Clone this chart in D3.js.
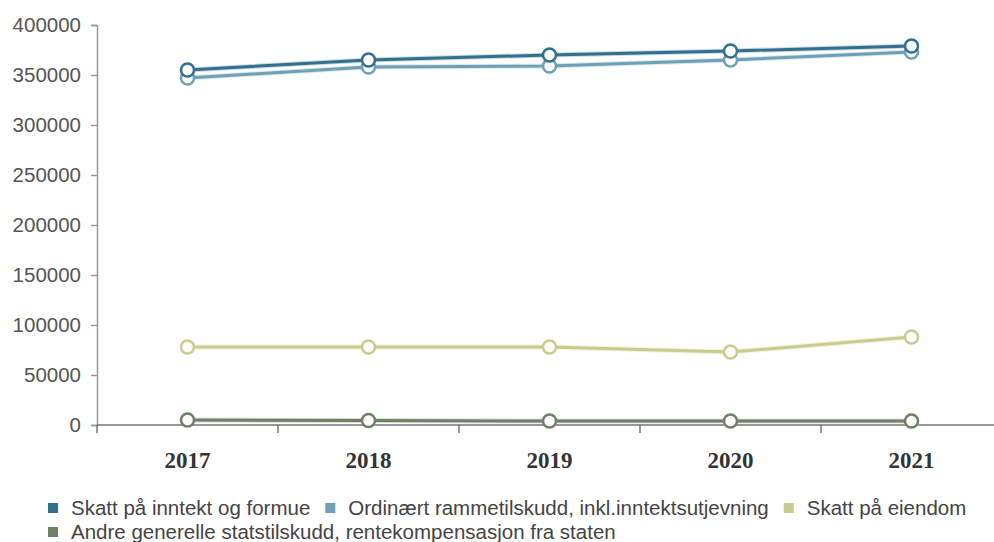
<!DOCTYPE html>
<html>
<head>
<meta charset="utf-8">
<script src="https://cdn.jsdelivr.net/npm/d3@7/dist/d3.min.js"></script>
<style>
html,body{margin:0;padding:0;background:#fff;}
svg{display:block;}
</style>
</head>
<body>
<svg id="chart" width="994" height="542"></svg>
<script>
const years = ["2017","2018","2019","2020","2021"];
const seriesNames = [
  "Skatt på inntekt og formue",
  "Ordinært rammetilskudd, inkl.inntektsutjevning",
  "Skatt på eiendom",
  "Andre generelle statstilskudd, rentekompensasjon fra staten"
];
const skattInntekt = [355000, 365000, 370000, 374000, 379000];
const rammetilskudd = [347000, 358000, 359000, 365000, 373000];
const skattEiendom = [78000, 78000, 78000, 73000, 88000];
const andreTilskudd = [5000, 4500, 4000, 4000, 4000];
const yTicks = [0, 50000, 100000, 150000, 200000, 250000, 300000, 350000, 400000];
const colors = ["#336f8e", "#6fa1b6", "#c9cc8c", "#6d8068"];

const allSeries = [skattInntekt, rammetilskudd, skattEiendom, andreTilskudd];

const svg = d3.select("#chart");
const mLeft = 97, mRight = 1002, mTop = 25, mBottom = 425;

const x = d3.scaleBand().domain(years).range([mLeft, mRight]);
const y = d3.scaleLinear().domain([0, 400000]).range([mBottom, mTop]);

// Y axis
const yAxis = svg.append("g").attr("transform", `translate(${mLeft},0)`)
  .call(d3.axisLeft(y).tickValues(yTicks).tickSize(6).tickPadding(10).tickFormat(d3.format("d")));
yAxis.attr("font-size", null);
yAxis.select(".domain").attr("stroke", "#999").attr("stroke-width", 1.5);
yAxis.selectAll(".tick line").attr("stroke", "#999").attr("stroke-width", 1.5);
yAxis.selectAll(".tick text").attr("fill", "#555")
  .attr("font-family", "'Liberation Sans', Arial, sans-serif").attr("font-size", "20.5px");

// X axis
const xAxis = svg.append("g").attr("transform", `translate(0,${mBottom})`)
  .call(d3.axisBottom(x).tickSize(0).tickPadding(27));
xAxis.attr("font-size", null);
xAxis.select(".domain").remove();
svg.append("line").attr("x1", mLeft).attr("x2", 994).attr("y1", mBottom).attr("y2", mBottom)
  .attr("stroke", "#777").attr("stroke-width", 1.5);
const bounds = years.map(yr => x(yr)).concat([x(years[years.length-1]) + x.bandwidth()]);
svg.append("g").selectAll("line").data(bounds.filter(b => b < 994)).join("line")
  .attr("x1", d => d).attr("x2", d => d).attr("y1", mBottom).attr("y2", mBottom + 8)
  .attr("stroke", "#777").attr("stroke-width", 1.5);
xAxis.selectAll(".tick text").attr("fill", "#333")
  .attr("font-family", "'Liberation Serif', 'Times New Roman', serif")
  .attr("font-size", "23px").attr("font-weight", "bold");

// Lines
const line = d3.line().x((d, i) => x(years[i]) + x.bandwidth() / 2).y(d => y(d));
const order = [3, 2, 1, 0];
order.forEach(si => {
  const data = allSeries[si];
  svg.append("path").datum(data).attr("d", line)
    .attr("fill", "none").attr("stroke", colors[si]).attr("stroke-opacity", 0.25).attr("stroke-width", 5);
  svg.append("path").datum(data).attr("d", line)
    .attr("fill", "none").attr("stroke", colors[si]).attr("stroke-width", 3);
  svg.append("g").selectAll("circle").data(data).join("circle")
    .attr("cx", (d, i) => x(years[i]) + x.bandwidth() / 2)
    .attr("cy", d => y(d)).attr("r", 6.5)
    .attr("fill", "#fff").attr("stroke", colors[si]).attr("stroke-width", 2.5);
});

// Legend
const legend = svg.append("g");
let lx = 48, ly = 508;
const maxX = 990;
seriesNames.forEach((name, i) => {
  const t = legend.append("text").text(name)
    .attr("font-family", "'Liberation Sans', Arial, sans-serif").attr("font-size", "20.5px")
    .attr("fill", "#444");
  const w = t.node().getComputedTextLength();
  if (lx + 23 + w > maxX) { lx = 48; ly += 24; }
  legend.append("rect").attr("x", lx).attr("y", ly - 5).attr("width", 10).attr("height", 10).attr("fill", colors[i]);
  t.attr("x", lx + 23).attr("y", ly + 7);
  lx += 23 + w + 15;
});
</script>
</body>
</html>
